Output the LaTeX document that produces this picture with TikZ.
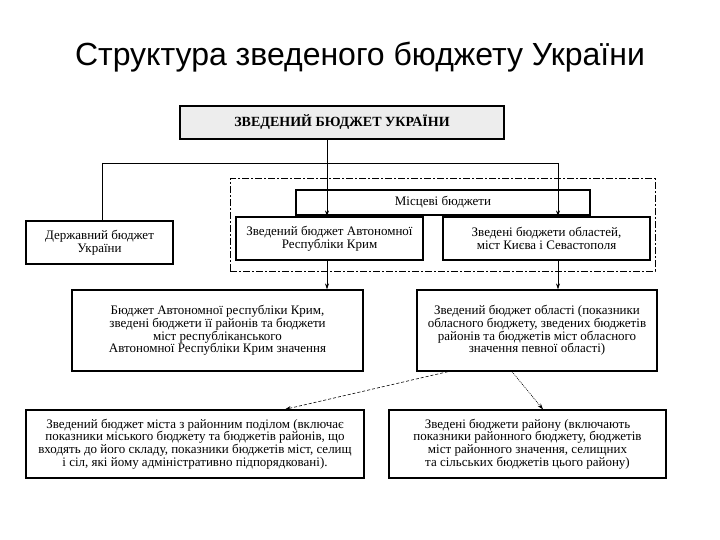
\documentclass[tikz,border=0pt]{standalone}
\usepackage{fontspec}
\setmainfont{Liberation Serif}
\newfontfamily\titlefont{Liberation Sans}
\usetikzlibrary{arrows.meta}
\tikzset{
  box/.style={draw=black, line width=1.3pt, fill=white, align=center, inner sep=0pt,
    font=\fontsize{13}{12.6}\selectfont},
  conn/.style={draw=black, line width=0.6pt},
  arr/.style={conn, -{Stealth[length=6pt,width=4pt]}},
  dashgroup/.style={draw=black, line width=1pt, dash pattern=on 7pt off 2pt on 2pt off 2pt},
}
\begin{document}
\begin{tikzpicture}[x=1pt,y=-1pt]
\useasboundingbox (0,0) rectangle (720,540);
% title
\node[font=\titlefont\fontsize{32}{36}\selectfont, anchor=base] (title) at (360,66) {Структура зведеного бюджету України};
% dashed group
\node[dashgroup, minimum width=425pt, minimum height=92pt, inner sep=0pt] (grp) at (442.5,225) {};
% boxes
\node[box, line width=1.2pt, fill=gray!14, minimum width=324pt, minimum height=33pt,
  font=\bfseries\fontsize{14}{16}\selectfont] (top) at (342,122.5) {ЗВЕДЕНИЙ БЮДЖЕТ УКРАЇНИ};
\node[box, minimum width=147pt, minimum height=43pt] (derzh) at (99.5,242.5) {Державний бюджет\\України};
\node[box, minimum width=294pt, minimum height=25pt] (misc) at (443,202.5) {Місцеві бюджети};
\node[box, minimum width=187pt, minimum height=43pt] (arkL) at (329.5,238.5) {Зведений бюджет Автономної\\Республіки Крим};
\node[box, minimum width=207pt, minimum height=43pt] (oblR) at (546.5,238.5) {Зведені бюджети областей,\\міст Києва і Севастополя};
\node[box, minimum width=291pt, minimum height=81pt] (ark2) at (217.5,330.5) {Бюджет Автономної республіки Крим,\\зведені бюджети її районів та бюджети\\міст республіканського\\Автономної Республіки Крим значення};
\node[box, minimum width=240pt, minimum height=81pt] (obl2) at (537,330.5) {Зведений бюджет області (показники\\обласного бюджету, зведених бюджетів\\районів та бюджетів міст обласного\\значення певної області)};
\node[box, minimum width=338pt, minimum height=68pt] (city) at (195,444) {Зведений бюджет міста з районним поділом (включає\\показники міського бюджету та бюджетів районів, що\\входять до його складу, показники бюджетів міст, селищ\\і сіл, які йому адміністративно підпорядковані).};
\node[box, minimum width=277pt, minimum height=68pt] (rayon) at (527.5,444) {Зведені бюджети району (включають\\показники районного бюджету, бюджетів\\міст районного значення, селищних\\та сільських бюджетів цього району)};
% junctions
\coordinate (jL) at (102,163);
\coordinate (jC) at (327,163);
\coordinate (jR) at (558,163);
\coordinate (d1) at (448,0);
\coordinate (d2) at (285,0);
\coordinate (e1) at (512,0);
\coordinate (e2) at (543,0);
% connectors
\draw[conn] (jC |- top.south) -- (jC);
\draw[conn] (jL) -- (jR);
\draw[conn] (jL) -- (jL |- derzh.north);
\draw[arr] (jC) -- (jC |- arkL.north);
\draw[arr] (jR) -- (jR |- oblR.north);
\draw[arr] (jC |- arkL.south) -- (jC |- ark2.north);
\draw[arr] (jR |- oblR.south) -- (jR |- obl2.north);
\draw[arr, dash pattern=on 3pt off 2pt] (d1 |- obl2.south) -- (d2 |- city.north);
\draw[arr, dash pattern=on 1pt off 1pt] (e1 |- obl2.south) -- (e2 |- rayon.north);
\end{tikzpicture}
\end{document}
